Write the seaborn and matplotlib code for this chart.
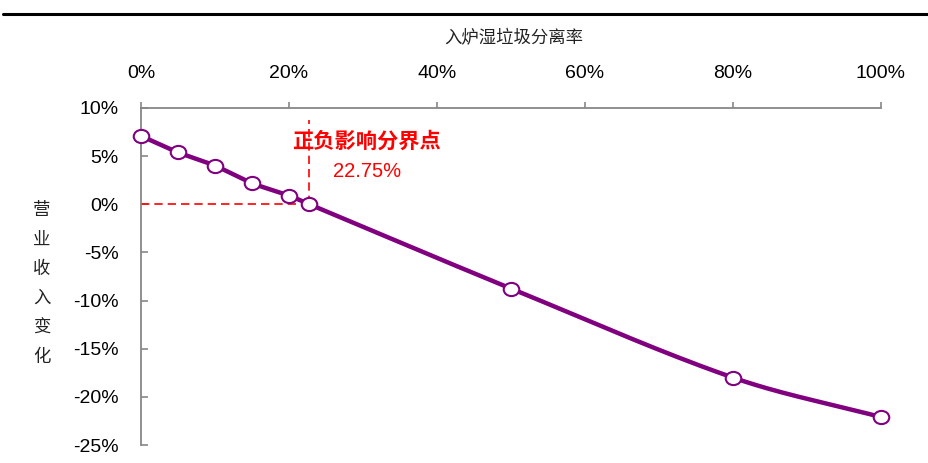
import numpy as np
import matplotlib
matplotlib.use("Agg")
import matplotlib.pyplot as plt
import seaborn as sns
from matplotlib.path import Path
from matplotlib.transforms import Affine2D
from matplotlib.lines import Line2D
from matplotlib.ticker import FuncFormatter, FixedLocator

# Data: separation rate of wet waste entering the furnace (%) vs revenue change (%)
separation_rate = [0, 5, 10, 15, 20, 22.75, 50, 80, 100]
revenue_change = [7.1, 5.4, 4.0, 2.2, 0.9, 0.0, -8.75, -18.0, -22.1]
x_ticks = [0, 20, 40, 60, 80, 100]
y_ticks = [10, 5, 0, -5, -10, -15, -20, -25]
breakeven_rate = 22.75
breakeven_guide_top = 8.8
x_title = "入炉湿垃圾分离率"
y_title = "营业收入变化"
breakeven_label = "正负影响分界点"
breakeven_value_label = "22.75%"

PURPLE = "#800080"
RED = "#FF0000"
GREY = "#878787"

sns.set_theme(style="white")
plt.rcParams["font.family"] = ["Liberation Sans", "Noto Sans CJK SC", "DejaVu Sans"]
CJK = ["Noto Sans CJK SC", "DejaVu Sans"]

W, H = 929, 463
fig = plt.figure(figsize=(W / 100, H / 100), dpi=100)
ax = fig.add_axes([141 / W, 18 / H, 740 / W, 337 / H])


def smooth_curve(xs, ys, n=40):
    """Piecewise cubic Hermite curve through the points (x is monotone)."""
    xs = np.asarray(xs, float)
    ys = np.asarray(ys, float)
    m = np.empty_like(ys)
    m[0] = (ys[1] - ys[0]) / (xs[1] - xs[0])
    m[-1] = (ys[-1] - ys[-2]) / (xs[-1] - xs[-2])
    m[1:-1] = (ys[2:] - ys[:-2]) / (xs[2:] - xs[:-2])
    out_x, out_y = [], []
    for i in range(len(xs) - 1):
        h = xs[i + 1] - xs[i]
        t = np.linspace(0, 1, n, endpoint=(i == len(xs) - 2))
        h00 = 2 * t**3 - 3 * t**2 + 1
        h10 = t**3 - 2 * t**2 + t
        h01 = -2 * t**3 + 3 * t**2
        h11 = t**3 - t**2
        out_x.append(xs[i] + t * h)
        out_y.append(h00 * ys[i] + h10 * h * m[i] + h01 * ys[i + 1] + h11 * h * m[i + 1])
    return np.concatenate(out_x), np.concatenate(out_y)


cx, cy = smooth_curve(separation_rate, revenue_change)
sns.lineplot(x=cx, y=cy, sort=False, color=PURPLE, linewidth=3.2, ax=ax,
             zorder=3, clip_on=False)

# slightly flattened circle markers
oval = Path.unit_circle().transformed(Affine2D().scale(1.0, 0.85))
sns.scatterplot(x=separation_rate, y=revenue_change, marker=oval, s=125,
                color="white", edgecolor=PURPLE, linewidth=1.5, ax=ax,
                zorder=4, clip_on=False)

# break-even guide lines
ax.plot([0, breakeven_rate], [0, 0], color=RED, lw=1.2, dashes=(5, 3), zorder=2)
ax.plot([breakeven_rate, breakeven_rate], [0, breakeven_guide_top], color=RED,
        lw=1.2, dashes=(5, 3), zorder=2)
ax.text(20.4, 6.5, breakeven_label, color=RED, fontsize=15.3, fontweight="bold",
        family=CJK, ha="left", va="center")
ax.text(25.9, 3.4, breakeven_value_label, color=RED, fontsize=14.5,
        ha="left", va="center")

ax.set_xlim(0, 100)
ax.set_ylim(-25, 10)
ax.xaxis.tick_top()
ax.xaxis.set_major_locator(FixedLocator(x_ticks))
ax.yaxis.set_major_locator(FixedLocator(y_ticks))
pct = FuncFormatter(lambda v, _: f"{v:.0f}%")
ax.xaxis.set_major_formatter(pct)
ax.yaxis.set_major_formatter(pct)
ax.tick_params(axis="x", which="both", top=True, bottom=False, direction="out",
               length=4, width=1.2, color=GREY, pad=15, labelsize=14,
               labelcolor="black")
ax.tick_params(axis="y", left=True, direction="in", length=5, width=1.2,
               color=GREY, pad=16, labelsize=14, labelcolor="black")
for side in ("bottom", "right"):
    ax.spines[side].set_visible(False)
for side in ("top", "left"):
    ax.spines[side].set_color(GREY)
    ax.spines[side].set_linewidth(1.3)
ax.set_xlabel("")
ax.set_ylabel("")
ax.grid(False)

# axis titles
fig.text(514 / W, 1 - 38 / H, x_title, family=CJK, fontsize=12.5,
         ha="center", va="center", color="#222222")
for k, ch in enumerate(y_title):
    fig.text(42 / W, 1 - (210 + 29.4 * k) / H, ch, family=CJK, fontsize=12.5,
             ha="center", va="center", color="#222222")

# header rule
fig.add_artist(Line2D([3 / W, 1], [1 - 14 / H, 1 - 14 / H], color="black",
                      lw=2.2, transform=fig.transFigure))

fig.savefig("out.png", dpi=100)
